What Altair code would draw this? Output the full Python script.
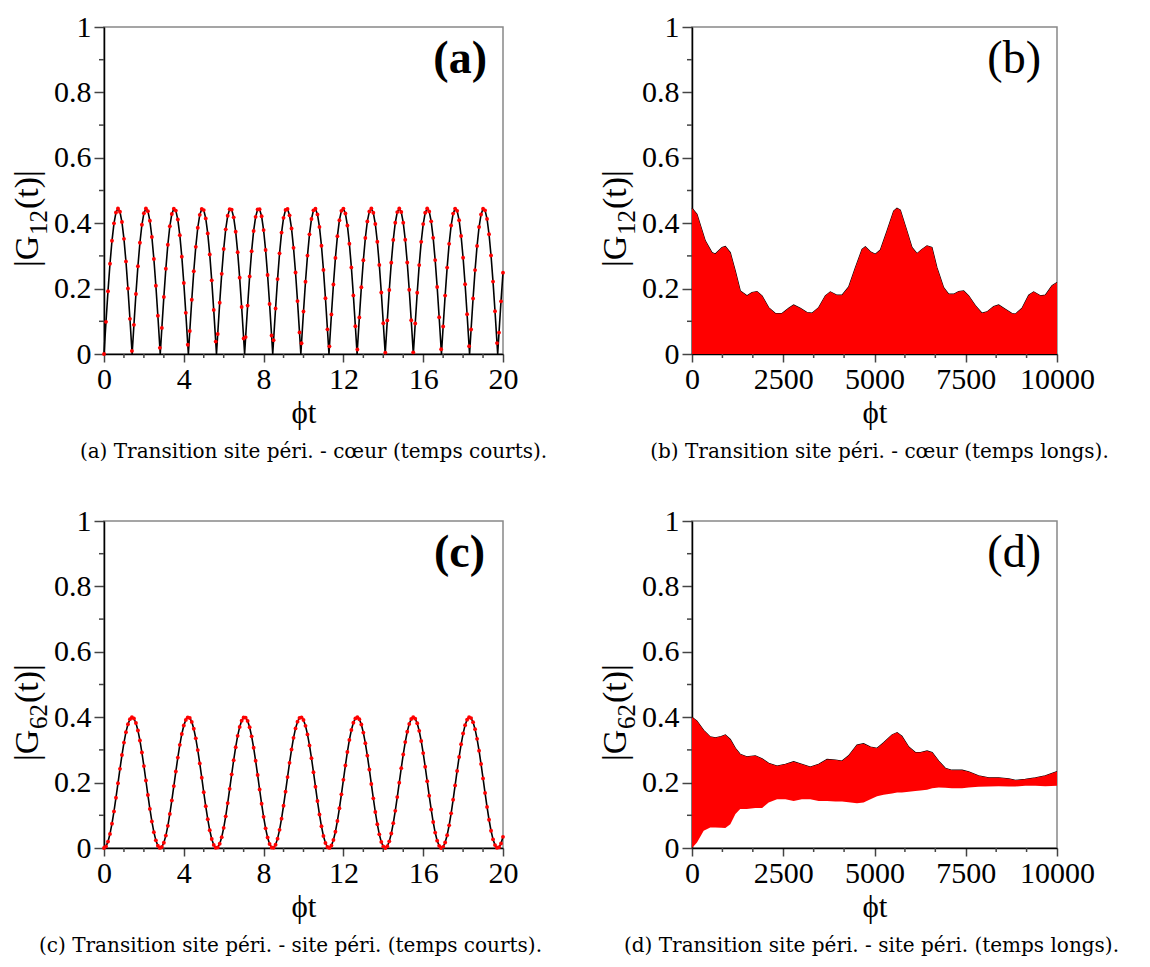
import altair as alt
import pandas as pd

# ---------------- data ----------------
# short-time grid (phi t), step 0.1
T_SHORT = [round(i * 0.1, 1) for i in range(201)]

# |G12(t)| short times (red dots, panel a)
G12_SHORT = [
    0.0000, 0.0984, 0.1919, 0.2759, 0.3462, 0.3995, 0.4329, 0.4450, 0.4350, 0.4035, 0.3521, 0.2832, 0.2004, 0.1076,
    0.0095, 0.0891, 0.1833, 0.2684, 0.3402, 0.3952, 0.4306, 0.4448, 0.4369, 0.4074, 0.3578, 0.2905, 0.2088, 0.1168,
    0.0189, 0.0798, 0.1746, 0.2608, 0.3340, 0.3907, 0.4281, 0.4444, 0.4386, 0.4112, 0.3634, 0.2976, 0.2171, 0.1259,
    0.0284, 0.0705, 0.1658, 0.2530, 0.3277, 0.3861, 0.4255, 0.4438, 0.4401, 0.4147, 0.3688, 0.3046, 0.2253, 0.1349,
    0.0379, 0.0611, 0.1570, 0.2452, 0.3212, 0.3813, 0.4226, 0.4430, 0.4414, 0.4180, 0.3740, 0.3114, 0.2334, 0.1439,
    0.0473, 0.0517, 0.1481, 0.2372, 0.3146, 0.3763, 0.4195, 0.4420, 0.4425, 0.4212, 0.3790, 0.3181, 0.2415, 0.1529,
    0.0567, 0.0423, 0.1391, 0.2291, 0.3078, 0.3712, 0.4163, 0.4407, 0.4434, 0.4241, 0.3839, 0.3247, 0.2494, 0.1617,
    0.0661, 0.0328, 0.1301, 0.2210, 0.3009, 0.3659, 0.4128, 0.4393, 0.4441, 0.4269, 0.3886, 0.3311, 0.2572, 0.1705,
    0.0754, 0.0234, 0.1210, 0.2127, 0.2938, 0.3604, 0.4092, 0.4377, 0.4446, 0.4295, 0.3931, 0.3373, 0.2648, 0.1792,
    0.0848, 0.0139, 0.1119, 0.2043, 0.2866, 0.3548, 0.4054, 0.4359, 0.4449, 0.4319, 0.3975, 0.3434, 0.2724, 0.1879,
    0.0940, 0.0044, 0.1027, 0.1958, 0.2793, 0.3490, 0.4014, 0.4339, 0.4450, 0.4341, 0.4017, 0.3494, 0.2798, 0.1964,
    0.1033, 0.0050, 0.0934, 0.1873, 0.2719, 0.3430, 0.3972, 0.4318, 0.4449, 0.4361, 0.4057, 0.3552, 0.2871, 0.2049,
    0.1125, 0.0145, 0.0841, 0.1787, 0.2643, 0.3369, 0.3928, 0.4293, 0.4446, 0.4378, 0.4094, 0.3608, 0.2943, 0.2132,
    0.1216, 0.0240, 0.0748, 0.1699, 0.2566, 0.3306, 0.3883, 0.4267, 0.4441, 0.4394, 0.4131, 0.3663, 0.3013, 0.2215,
    0.1307, 0.0334, 0.0655, 0.1611, 0.2488,
]
# cusps of the black curve of panel (a), where it touches 0
T_ZEROS_A = [1.4096, 2.8191, 4.2287, 5.6382, 7.0478, 8.4573, 9.8669, 11.2764,
             12.686, 14.0955, 15.5051, 16.9146, 18.3242, 19.7337]

# |G62(t)| short times (panel c)
G62_SHORT = [
    0.0000, 0.0049, 0.0195, 0.0431, 0.0744, 0.1119, 0.1537, 0.1979, 0.2421, 0.2843, 0.3223, 0.3543, 0.3786, 0.3941,
    0.4000, 0.3960, 0.3823, 0.3595, 0.3289, 0.2920, 0.2504, 0.2064, 0.1620, 0.1196, 0.0811, 0.0485, 0.0234, 0.0070,
    0.0002, 0.0032, 0.0160, 0.0379, 0.0678, 0.1043, 0.1455, 0.1894, 0.2338, 0.2765, 0.3155, 0.3487, 0.3746, 0.3918,
    0.3996, 0.3975, 0.3856, 0.3645, 0.3353, 0.2994, 0.2586, 0.2149, 0.1704, 0.1275, 0.0881, 0.0542, 0.0275, 0.0094,
    0.0007, 0.0019, 0.0129, 0.0331, 0.0616, 0.0969, 0.1373, 0.1809, 0.2253, 0.2686, 0.3084, 0.3429, 0.3703, 0.3893,
    0.3989, 0.3987, 0.3886, 0.3692, 0.3415, 0.3067, 0.2667, 0.2234, 0.1789, 0.1355, 0.0952, 0.0601, 0.0320, 0.0122,
    0.0016, 0.0009, 0.0100, 0.0286, 0.0556, 0.0897, 0.1293, 0.1724, 0.2169, 0.2605, 0.3012, 0.3368, 0.3657, 0.3863,
    0.3978, 0.3995, 0.3913, 0.3736, 0.3474, 0.3138, 0.2747, 0.2318, 0.1874, 0.1436, 0.1026, 0.0664, 0.0368, 0.0153,
    0.0029, 0.0003, 0.0075, 0.0243, 0.0498, 0.0827, 0.1214, 0.1640, 0.2084, 0.2523, 0.2937, 0.3305, 0.3607, 0.3831,
    0.3963, 0.3999, 0.3936, 0.3777, 0.3530, 0.3207, 0.2825, 0.2402, 0.1959, 0.1518, 0.1101, 0.0728, 0.0418, 0.0187,
    0.0045, 0.0000, 0.0054, 0.0204, 0.0443, 0.0759, 0.1137, 0.1557, 0.1999, 0.2441, 0.2861, 0.3239, 0.3555, 0.3795,
    0.3945, 0.4000, 0.3955, 0.3814, 0.3583, 0.3274, 0.2902, 0.2485, 0.2044, 0.1601, 0.1178, 0.0795, 0.0472, 0.0225,
    0.0065, 0.0001, 0.0036, 0.0168, 0.0391, 0.0693, 0.1060, 0.1474, 0.1914, 0.2357, 0.2783, 0.3171, 0.3500, 0.3756,
    0.3924, 0.3997, 0.3972, 0.3848, 0.3634, 0.3339, 0.2977, 0.2567, 0.2129, 0.1685, 0.1256, 0.0864, 0.0528, 0.0265,
    0.0088, 0.0006, 0.0022, 0.0136, 0.0342,
]

# long times, panel (b): upper envelope of the filled oscillation
T_LONG_B = [0, 137, 365, 548, 639, 822, 913, 1050, 1187, 1324, 1507, 1644, 1781, 1918, 2100, 2283, 2466,
            2648, 2785, 2968, 3151, 3288, 3470, 3653, 3790, 3973, 4110, 4292, 4475, 4658, 4749, 4886,
            5023, 5160, 5342, 5525, 5616, 5708, 5890, 6027, 6164, 6301, 6438, 6575, 6712, 6895, 7032,
            7169, 7306, 7443, 7580, 7763, 7945, 8082, 8265, 8402, 8584, 8767, 8858, 9041, 9224, 9361,
            9543, 9680, 9863, 10000]
G12_LONG_TOP = [0.446, 0.427, 0.346, 0.310, 0.306, 0.326, 0.329, 0.310, 0.254, 0.193, 0.178, 0.188, 0.191,
                0.178, 0.142, 0.124, 0.124, 0.140, 0.150, 0.140, 0.127, 0.125, 0.142, 0.178, 0.190, 0.180,
                0.180, 0.205, 0.264, 0.320, 0.328, 0.313, 0.305, 0.318, 0.376, 0.437, 0.446, 0.440, 0.376,
                0.326, 0.307, 0.320, 0.331, 0.326, 0.264, 0.203, 0.183, 0.183, 0.191, 0.193, 0.178, 0.148,
                0.125, 0.129, 0.145, 0.150, 0.137, 0.124, 0.122, 0.140, 0.180, 0.190, 0.178, 0.180, 0.209,
                0.219]

# long times, panel (d): upper and lower envelopes of the band
T_LONG_D = [0, 137, 320, 500, 640, 800, 913, 1050, 1190, 1320, 1500, 1735, 1920, 2100, 2330, 2560, 2785,
            3010, 3240, 3470, 3700, 3930, 4110, 4290, 4520, 4700, 4890, 5070, 5250, 5480, 5620, 5750,
            5940, 6120, 6260, 6440, 6580, 6760, 6940, 7120, 7400, 7580, 7850, 8130, 8400, 8680, 8860,
            9130, 9410, 9680, 10000]
G62_LONG_TOP = [0.400, 0.388, 0.360, 0.340, 0.337, 0.341, 0.346, 0.332, 0.305, 0.287, 0.279, 0.282, 0.273,
                0.259, 0.251, 0.256, 0.264, 0.256, 0.248, 0.256, 0.271, 0.269, 0.266, 0.282, 0.315, 0.319,
                0.309, 0.305, 0.322, 0.346, 0.353, 0.342, 0.309, 0.292, 0.292, 0.297, 0.292, 0.266, 0.244,
                0.238, 0.238, 0.233, 0.221, 0.215, 0.215, 0.212, 0.207, 0.210, 0.215, 0.221, 0.234]
G62_LONG_LOW = [0.000, 0.017, 0.053, 0.063, 0.063, 0.062, 0.061, 0.073, 0.104, 0.119, 0.119, 0.122, 0.122,
                0.139, 0.149, 0.149, 0.144, 0.149, 0.149, 0.144, 0.144, 0.142, 0.142, 0.140, 0.137, 0.139,
                0.149, 0.158, 0.163, 0.167, 0.170, 0.170, 0.172, 0.174, 0.176, 0.178, 0.183, 0.185, 0.184,
                0.183, 0.183, 0.185, 0.187, 0.188, 0.189, 0.188, 0.188, 0.190, 0.190, 0.189, 0.190]

# axis ticks
Y_MAJOR = [0, 0.2, 0.4, 0.6, 0.8, 1]
Y_MINOR = [0.1, 0.3, 0.5, 0.7, 0.9]
XS_MAJOR = [0, 4, 8, 12, 16, 20]
XS_MINOR = [1, 2, 3, 5, 6, 7, 9, 10, 11, 13, 14, 15, 17, 18, 19]
XL_MAJOR = [0, 2500, 5000, 7500, 10000]
XL_MINOR = [833.33, 1666.67, 3333.33, 4166.67, 5833.33, 6666.67, 8333.33, 9166.67]

CAPTIONS = [
    "(a) Transition site péri. - cœur (temps courts).",
    "(b) Transition site péri. - cœur (temps longs).",
    "(c) Transition site péri. - site péri. (temps courts).",
    "(d) Transition site péri. - site péri. (temps longs).",
]
TAGS = ["(a)", "(b)", "(c)", "(d)"]
# subscripts of the y titles |G_ij(t)|
YSUBS = ["12", "12", "62", "62"]

FONT = "Liberation Serif"
CAP_FONT = "DejaVu Serif"
TICK_COLOR = "#444444"


def text_piece(s, x, y, size, angle=0, align="left", weight="normal"):
    return alt.Chart(pd.DataFrame({"s": [s]})).mark_text(
        font=FONT, fontSize=size, fontWeight=weight, angle=angle, align=align,
        baseline="alphabetic", color="black").encode(
        text="s:N", x=alt.value(x), y=alt.value(y))


def make_panel(kind, W, H, xdom, xmajor, xminor, ysub, tag, bold, inset, cap, cap_dx, data):
    sx = alt.Scale(domain=xdom, nice=False, zero=False)
    sy = alt.Scale(domain=[0, 1], nice=False)
    common = dict(grid=False, domainColor="black", domainWidth=1.5, tickColor=TICK_COLOR, tickWidth=1.5,
                  labelFont=FONT, labelFontSize=30, labelColor="black", labelFlush=False,
                  labelOverlap=False, titleFont=FONT, titleFontSize=31, titleFontWeight="normal",
                  titleColor="black")
    ax_x = alt.Axis(values=xmajor, format="d", title="ϕt", tickSize=8, labelPadding=2,
                    titlePadding=4, **common)
    ax_y = alt.Axis(values=Y_MAJOR, format="~g", title=None, tickSize=10, labelPadding=3, **common)

    def X(f):
        return alt.X(f, type="quantitative", scale=sx, axis=ax_x)

    def Y(f):
        return alt.Y(f, type="quantitative", scale=sy, axis=ax_y)

    layers = []
    if kind == "short":
        df_dots, df_line = data
        layers.append(alt.Chart(df_line).mark_line(color="black", strokeWidth=1.6).encode(
            x=X("t"), y=Y("g")))
        layers.append(alt.Chart(df_dots).mark_circle(color="red", size=15, opacity=1).encode(
            x=X("t"), y=Y("g")))
    else:
        df = data
        layers.append(alt.Chart(df).mark_line(color="black", strokeWidth=1.1).encode(
            x=X("t"), y=Y("hi")))
        layers.append(alt.Chart(df).mark_area(color="#ff0000", opacity=1).encode(
            x=X("t"), y=Y("hi"), y2="lo:Q"))

    # minor ticks
    layers.append(alt.Chart(pd.DataFrame({"v": Y_MINOR})).mark_rule(
        color=TICK_COLOR, strokeWidth=1.5).encode(
        y=Y("v"), x=alt.value(0), x2=alt.value(-5)))
    layers.append(alt.Chart(pd.DataFrame({"v": xminor})).mark_rule(
        color=TICK_COLOR, strokeWidth=1.5).encode(
        x=X("v"), y=alt.value(H), y2=alt.value(H + 4)))

    # panel tag
    layers.append(text_piece(tag, W - inset, 46, 46, align="right",
                             weight="bold" if bold else "normal"))

    # rotated y title |G_ij(t)| with a real subscript
    xb = -66
    layers.append(text_piece("|G", xb, 240, 34, angle=270))
    layers.append(text_piece(ysub, xb + 9, 208, 25, angle=270))
    layers.append(text_piece("(t)|", xb, 182, 34, angle=270))

    title = alt.TitleParams(text=cap, orient="bottom", anchor="middle", frame="group",
                            font=CAP_FONT, fontSize=20, fontWeight="normal", color="black",
                            offset=14, dx=cap_dx)
    return alt.layer(*layers).properties(width=W, height=H, title=title)


WA, HA = 399, 327
WB, HB = 365, 327

df_a_dots = pd.DataFrame({"t": T_SHORT, "g": G12_SHORT})
df_a_line = pd.concat([df_a_dots, pd.DataFrame({"t": T_ZEROS_A, "g": [0.0] * len(T_ZEROS_A)})]
                      ).sort_values("t").reset_index(drop=True)
df_c = pd.DataFrame({"t": T_SHORT, "g": G62_SHORT})
df_b = pd.DataFrame({"t": T_LONG_B, "hi": G12_LONG_TOP, "lo": [0.0] * len(T_LONG_B)})
df_d = pd.DataFrame({"t": T_LONG_D, "hi": G62_LONG_TOP, "lo": G62_LONG_LOW})

panel_a = make_panel("short", WA, HA, [0, 20], XS_MAJOR, XS_MINOR, YSUBS[0], TAGS[0], True, 16,
                     CAPTIONS[0], 10, (df_a_dots, df_a_line))
panel_b = make_panel("fill", WB, HB, [0, 10000], XL_MAJOR, XL_MINOR, YSUBS[1], TAGS[1], False, 16,
                     CAPTIONS[1], 5, df_b)
panel_c = make_panel("short", WA, HA, [0, 20], XS_MAJOR, XS_MINOR, YSUBS[2], TAGS[2], True, 18,
                     CAPTIONS[2], -13, (df_c, df_c))
panel_d = make_panel("fill", WB, HB, [0, 10000], XL_MAJOR, XL_MINOR, YSUBS[3], TAGS[3], False, 16,
                     CAPTIONS[3], -3, df_d)

chart = alt.ConcatChart(
    concat=[panel_a, panel_b, panel_c, panel_d], columns=2,
    spacing={"row": 167, "column": 189}, bounds="flush",
).properties(
    padding={"left": 2, "top": 3, "right": 0, "bottom": 0},
    background="white",
).configure_view(
    stroke="#888888", strokeWidth=1.5
)

chart.save("out.html", embed_options={"renderer": "svg", "actions": False})
